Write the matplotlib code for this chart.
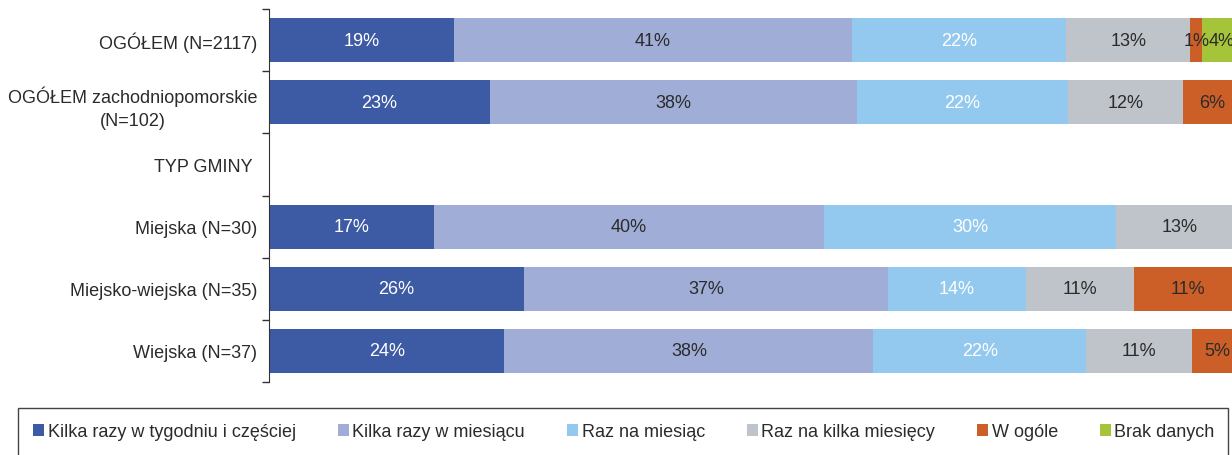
import matplotlib
matplotlib.use("Agg")
import matplotlib.pyplot as plt
from matplotlib.patches import Rectangle
import numpy as np

plt.rcParams['font.family'] = ['Liberation Sans', 'DejaVu Sans']

# rows from top to bottom; the "TYP GMINY" row is an empty header
rows = ["OGÓŁEM (N=2117)", "OGÓŁEM zachodniopomorskie\n(N=102)", "TYP GMINY ",
        "Miejska (N=30)", "Miejsko-wiejska (N=35)", "Wiejska (N=37)"]
series = ["Kilka razy w tygodniu i częściej", "Kilka razy w miesiącu", "Raz na miesiąc",
          "Raz na kilka miesięcy", "W ogóle", "Brak danych"]

# percentages per series (one value per row, 0 for the header row)
kilka_tydz = [19.0, 22.7, 0, 17.0, 26.2, 24.2]
kilka_mies = [40.9, 37.7, 0, 40.0, 37.4, 37.9]
raz_mies = [22.0, 21.7, 0, 30.1, 14.2, 21.9]
raz_kilka = [12.8, 11.8, 0, 12.9, 11.1, 10.9]
w_ogole = [1.2, 6.1, 0, 0, 11.1, 5.1]
brak = [4.0, 0, 0, 0, 0, 0]

colors = ["#3D5AA4", "#A0AED7", "#93C9EE", "#BFC3CA", "#CB5F27", "#A5C43A"]
text_colors = ["white", "#2b2b2b", "white", "#2b2b2b", "#2b2b2b", "#2b2b2b"]

data = [kilka_tydz, kilka_mies, raz_mies, raz_kilka, w_ogole, brak]
fs = 13

fig = plt.figure(figsize=(12.32, 4.56), dpi=100)
ax = fig.add_axes([269/1232, 1 - 383/456, 973/1232, 373/456])

y = np.arange(len(rows))
left = np.zeros(len(rows))
for vals, name, col, tc in zip(data, series, colors, text_colors):
    vals = np.array(vals)
    ax.barh(y, vals, left=left, height=0.71, color=col, label=name)
    for yi, v, l in zip(y, vals, left):
        if v > 0:
            ax.text(l + v / 2, yi, f"{v:.0f}%", ha="center", va="center",
                    color=tc, fontsize=fs)
    left += vals

ax.set_xlim(0, 100)
ax.set_ylim(len(rows) - 0.5, -0.5)
ax.set_yticks(y)
ax.set_yticklabels(rows, fontsize=fs, color="#2b2b2b", multialignment="center",
                   linespacing=1.45)
ax.tick_params(axis="y", which="major", length=0, pad=8.5)
ax.set_yticks(np.arange(len(rows) + 1) - 0.5, minor=True)
ax.tick_params(axis="y", which="minor", length=5, width=1, color="#333333")
ax.set_xticks([])
for s in ["top", "right", "bottom"]:
    ax.spines[s].set_visible(False)
ax.spines["left"].set_color("#333333")

handles, labels = ax.get_legend_handles_labels()
fig.legend(handles, labels, loc="center", bbox_to_anchor=(624/1232, 1 - 433/456),
           ncol=6, frameon=False, fontsize=fs, handlelength=0.6, handleheight=0.6,
           handletextpad=0.2, columnspacing=2.33, labelcolor="#2b2b2b")
fig.patches.append(Rectangle((18/1232, -0.05), 1210/1232, 0.05 + 1 - 409/456,
                             transform=fig.transFigure, fill=False,
                             edgecolor="#444444", linewidth=1))

plt.savefig("out.png", dpi=100)
